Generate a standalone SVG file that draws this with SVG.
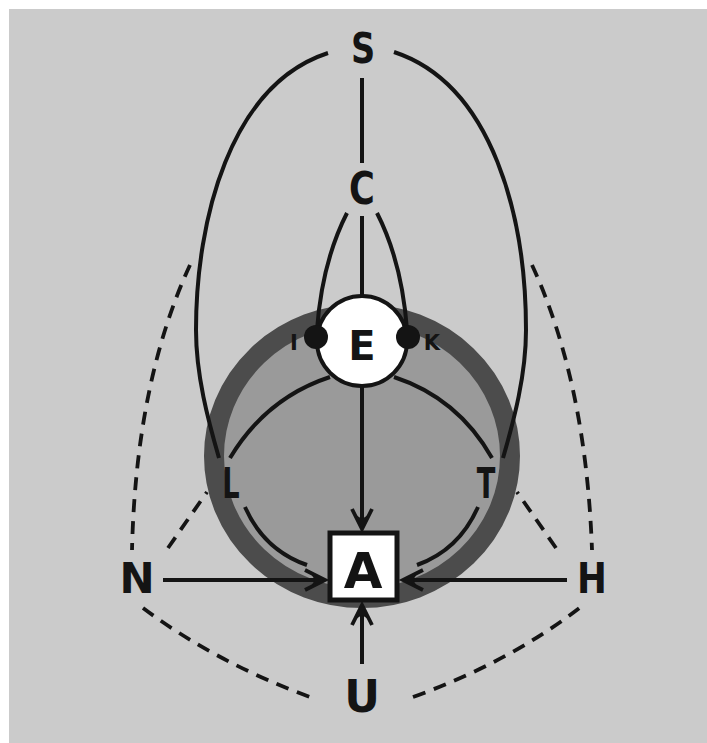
<svg xmlns="http://www.w3.org/2000/svg" width="707" height="743" viewBox="0 0 707 743">
<defs>
<style>
.bg{fill:#cbcbcb}
.ln{fill:none;stroke:#141414;stroke-width:4;stroke-linecap:butt}
.ds{fill:none;stroke:#141414;stroke-width:3.8;stroke-dasharray:13 9}
.lb{font-family:"DejaVu Sans","Liberation Sans",sans-serif;font-weight:bold;fill:#141414;text-anchor:middle}
</style>
<marker id="arr" markerUnits="userSpaceOnUse" orient="auto" overflow="visible" markerWidth="30" markerHeight="30">
<path d="M-20,-10 L0,0 L-20,10" fill="none" stroke="#141414" stroke-width="3.8"/>
<path d="M0,0 L-14,-6 L-10,0 L-14,6 Z" fill="#141414"/>
</marker>
</defs>
<rect x="0" y="0" width="707" height="743" fill="#ffffff"/>
<rect class="bg" x="9" y="9" width="698" height="734"/>
<g id="ring">
<ellipse cx="362" cy="456" rx="148" ry="142" fill="#9a9a9a" stroke="#4c4c4c" stroke-width="20"/>
</g>
<g id="connectors">
<line class="ln" x1="362" y1="78" x2="362" y2="163"/>
<path class="ln" d="M328,53 C230,85 196,220 196,330 C196,375 208,420 219,458"/>
<path class="ln" d="M394,52 C494,85 526,220 526,330 C526,375 514,420 503,458"/>
<line class="ln" x1="362" y1="216" x2="362" y2="298"/>
<path class="ln" d="M347,213 Q322,262 317,330"/>
<path class="ln" d="M377,213 Q402,262 407,330"/>
<path class="ln" d="M330,377 Q266,398 230,458"/>
<path class="ln" d="M394,377 Q458,398 492,458"/>
<line class="ln" x1="362" y1="386" x2="362" y2="529" marker-end="url(#arr)"/>
<path class="ln" d="M245,507 Q264,550 307,565"/>
<path class="ln" d="M478,507 Q459,550 417,565"/>
<line class="ln" x1="163" y1="580" x2="325" y2="580" marker-end="url(#arr)"/>
<line class="ln" x1="567" y1="580" x2="403" y2="580" marker-end="url(#arr)"/>
<line class="ln" x1="362" y1="664" x2="362" y2="605" marker-end="url(#arr)"/>
<path class="ds" d="M190,265 Q136,382 132,550"/>
<path class="ds" d="M532,265 Q586,382 592,550"/>
<path class="ds" d="M168,548 L207,492"/>
<path class="ds" d="M556,548 L517,492"/>
<path class="ds" d="M143,608 Q215,662 310,697"/>
<path class="ds" d="M413,697 Q510,662 582,606"/>
</g>
<g id="S"><text class="lb" font-size="42" transform="translate(363,63) scale(0.8,1)">S</text></g>
<g id="C"><text class="lb" font-size="44" transform="translate(362,204) scale(0.8,1)">C</text></g>
<g id="E">
<circle cx="362" cy="341" r="45" fill="#ffffff" stroke="#141414" stroke-width="4"/>
<text class="lb" font-size="40" x="362" y="360">E</text>
</g>
<g id="I">
<circle cx="316" cy="337" r="12" fill="#141414"/>
<text class="lb" font-size="21" x="294" y="350">I</text>
</g>
<g id="K">
<circle cx="408" cy="337" r="12" fill="#141414"/>
<text class="lb" font-size="21" x="432" y="350">K</text>
</g>
<g id="L"><text class="lb" font-size="42" transform="translate(231,498) scale(0.65,1)">L</text></g>
<g id="T"><text class="lb" font-size="42" transform="translate(486,498) scale(0.65,1)">T</text></g>
<g id="N"><text class="lb" font-size="42" x="137" y="593">N</text></g>
<g id="H"><text class="lb" font-size="42" transform="translate(592,593) scale(0.85,1)">H</text></g>
<g id="A">
<rect x="330" y="533" width="67" height="67" fill="#ffffff" stroke="#141414" stroke-width="5"/>
<text class="lb" font-size="50" x="363" y="588">A</text>
</g>
<g id="U"><text class="lb" font-size="44" x="362" y="712">U</text></g>
</svg>
